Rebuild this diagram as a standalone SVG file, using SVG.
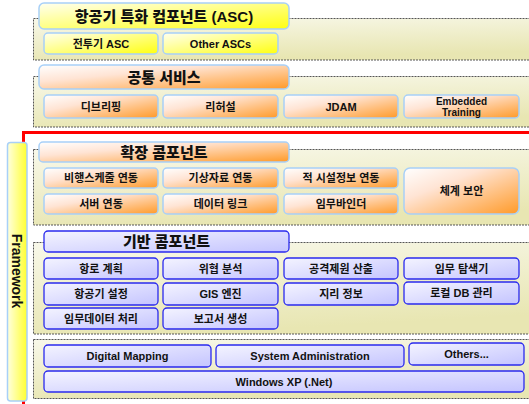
<svg xmlns="http://www.w3.org/2000/svg" width="529" height="404" viewBox="0 0 529 404">
<defs>
<linearGradient id="gY" x1="0" y1="0" x2="1" y2="1"><stop offset="0" stop-color="#fffff0"/><stop offset="1" stop-color="#ffff10"/></linearGradient>
<linearGradient id="gO" x1="0" y1="0" x2="1" y2="1"><stop offset="0" stop-color="#ffffff"/><stop offset="0.35" stop-color="#ffe4d4"/><stop offset="1" stop-color="#ff9a28"/></linearGradient>
<linearGradient id="gB" x1="0" y1="0" x2="1" y2="1"><stop offset="0" stop-color="#f4f4ff"/><stop offset="1" stop-color="#c4c4ff"/></linearGradient>
<linearGradient id="gC" x1="0" y1="0" x2="0.3" y2="1"><stop offset="0" stop-color="#f8f8ea"/><stop offset="1" stop-color="#e8e6b2"/></linearGradient>
<linearGradient id="gF" x1="0" y1="0" x2="1" y2="0"><stop offset="0" stop-color="#ffffe0"/><stop offset="1" stop-color="#ffff30"/></linearGradient>
</defs>
<style>
.cont{fill:url(#gC);stroke:#555;stroke-width:1;stroke-dasharray:2 1}
.y{fill:url(#gY);stroke:#a8d0f8;stroke-width:1.5}
.o{fill:url(#gO);stroke:#a8d0f8;stroke-width:1.5}
.b{fill:url(#gB);stroke:#2a2aee;stroke-width:1.3}
text{font-family:"Liberation Sans","Noto Sans CJK KR",sans-serif;font-weight:bold;fill:#111;text-anchor:middle;dominant-baseline:central}
.t{font-size:15px;font-weight:900}
.s{font-size:11px}
.e{font-size:10px}
</style>
<g id="containers">
<rect class="cont" x="33.5" y="18.5" width="500" height="41.5"/>
<rect class="cont" x="33.5" y="76.5" width="500" height="50.5"/>
<rect class="cont" x="33.5" y="149.5" width="500" height="75.5"/>
<rect class="cont" x="33.5" y="242.5" width="500" height="91.5"/>
<rect class="cont" x="33.5" y="339.5" width="500" height="59"/>
</g>
<g id="red-frame"><rect x="23.5" y="132.5" width="520" height="290" fill="none" stroke="#ff0000" stroke-width="3"/></g>
<g id="framework">
<rect x="7.5" y="142.5" width="19.5" height="258.5" rx="3" fill="url(#gF)" stroke="#a8d0f8" stroke-width="1.5"/>
<text transform="translate(17,271) rotate(90)" style="font-size:14px">Framework</text>
</g>
<g id="asc">
<g id="asc-title"><rect class="y" x="39" y="3" width="250" height="26" rx="5"/><text class="t" x="164" y="16">항공기 특화 컴포넌트 (ASC)</text></g>
<g id="asc-1"><rect class="y" x="44" y="33" width="114" height="21" rx="4"/><text class="s" x="101" y="43.5">전투기 ASC</text></g>
<g id="asc-2"><rect class="y" x="163" y="33" width="115" height="21" rx="4"/><text class="s" x="220.5" y="43.5">Other ASCs</text></g>
</g>
<g id="common">
<g id="common-title"><rect class="o" x="39" y="65" width="250" height="24" rx="5"/><text class="t" x="164" y="77">공통 서비스</text></g>
<g id="c-1"><rect class="o" x="44" y="95" width="114" height="23" rx="4"/><text class="s" x="101" y="106.5">디브리핑</text></g>
<g id="c-2"><rect class="o" x="163" y="95" width="115" height="23" rx="4"/><text class="s" x="220.5" y="106.5">리허설</text></g>
<g id="c-3"><rect class="o" x="284" y="95" width="114" height="23" rx="4"/><text class="s" x="341" y="106.5">JDAM</text></g>
<g id="c-4"><rect class="o" x="404" y="95" width="115" height="23" rx="4"/><text class="e" x="461.5" y="101">Embedded</text><text class="e" x="461.5" y="112">Training</text></g>
</g>
<g id="ext">
<g id="ext-title"><rect class="o" x="39" y="142" width="250" height="20" rx="4"/><text class="t" x="164" y="152">확장 콤포넌트</text></g>
<g id="e-1"><rect class="o" x="44" y="168" width="114" height="20" rx="4"/><text class="s" x="101" y="178">비행스케줄 연동</text></g>
<g id="e-2"><rect class="o" x="163" y="168" width="115" height="20" rx="4"/><text class="s" x="220.5" y="178">기상자료 연동</text></g>
<g id="e-3"><rect class="o" x="284" y="168" width="114" height="20" rx="4"/><text class="s" x="341" y="178">적 시설정보 연동</text></g>
<g id="e-4"><rect class="o" x="404" y="168" width="115" height="46" rx="6"/><text class="s" x="461.5" y="191">체계 보안</text></g>
<g id="e-5"><rect class="o" x="44" y="194" width="114" height="20" rx="4"/><text class="s" x="101" y="204">서버 연동</text></g>
<g id="e-6"><rect class="o" x="163" y="194" width="115" height="20" rx="4"/><text class="s" x="220.5" y="204">데이터 링크</text></g>
<g id="e-7"><rect class="o" x="284" y="194" width="114" height="20" rx="4"/><text class="s" x="341" y="204">임무바인더</text></g>
</g>
<g id="base">
<g id="base-title"><rect class="b" x="44" y="231" width="245" height="21" rx="4"/><text class="t" x="166.5" y="241.5">기반 콤포넌트</text></g>
<g id="b-1"><rect class="b" x="44" y="258" width="114" height="21" rx="4"/><text class="s" x="101" y="268.5">항로 계획</text></g>
<g id="b-2"><rect class="b" x="163" y="258" width="115" height="21" rx="4"/><text class="s" x="220.5" y="268.5">위협 분석</text></g>
<g id="b-3"><rect class="b" x="284" y="258" width="114" height="21" rx="4"/><text class="s" x="341" y="268.5">공격제원 산출</text></g>
<g id="b-4"><rect class="b" x="404" y="258" width="115" height="21" rx="4"/><text class="s" x="461.5" y="268.5">임무 탐색기</text></g>
<g id="b-5"><rect class="b" x="44" y="283" width="114" height="22" rx="4"/><text class="s" x="101" y="294">항공기 설정</text></g>
<g id="b-6"><rect class="b" x="163" y="283" width="115" height="22" rx="4"/><text class="s" x="220.5" y="294">GIS 엔진</text></g>
<g id="b-7"><rect class="b" x="284" y="283" width="114" height="22" rx="4"/><text class="s" x="341" y="294">지리 정보</text></g>
<g id="b-8"><rect class="b" x="404" y="282" width="115" height="22" rx="4"/><text class="s" x="461.5" y="293">로컬 DB 관리</text></g>
<g id="b-9"><rect class="b" x="44" y="308" width="114" height="21" rx="4"/><text class="s" x="101" y="318.5">임무데이터 처리</text></g>
<g id="b-10"><rect class="b" x="163" y="308" width="115" height="21" rx="4"/><text class="s" x="220.5" y="318.5">보고서 생성</text></g>
</g>
<g id="sys">
<g id="s-1"><rect class="b" x="44" y="345" width="167" height="22" rx="4"/><text class="s" x="127.5" y="356">Digital Mapping</text></g>
<g id="s-2"><rect class="b" x="216" y="345" width="188" height="22" rx="4"/><text class="s" x="310" y="356">System Administration</text></g>
<g id="s-3"><rect class="b" x="409" y="343" width="115" height="22" rx="4"/><text class="s" x="466.5" y="354">Others...</text></g>
<g id="s-4"><rect class="b" x="44" y="371" width="480" height="21" rx="4"/><text class="s" x="284" y="381.5">Windows XP (.Net)</text></g>
</g>
<g id="connectors"/>
</svg>
